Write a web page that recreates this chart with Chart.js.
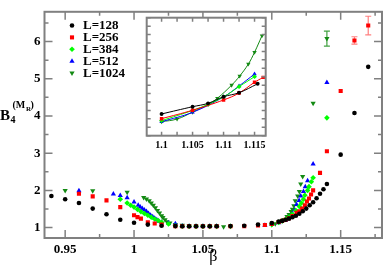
<!DOCTYPE html>
<html>
<head>
<meta charset="utf-8">
<script src="https://cdn.jsdelivr.net/npm/chart.js@4.4.0/dist/chart.umd.min.js"></script>
<style>
body { margin: 0; background: #fff; }
#caixa { position: relative; width: 386px; height: 269px; }
#principal { position: absolute; left: 0; top: 0; }
#inset { position: absolute; left: 128px; top: 6px; }
</style>
</head>
<body>
<div id="caixa">
  <canvas id="principal" width="386" height="269"></canvas>
  <canvas id="inset" width="150" height="150"></canvas>
</div>
<script>
// dados (beta, B4)
const rotulos = ['L=128', 'L=256', 'L=384', 'L=512', 'L=1024'];

const beta128 = [0.94, 0.95, 0.96, 0.97, 0.98, 0.99, 1.0, 1.01, 1.02, 1.03, 1.035, 1.04, 1.045, 1.05, 1.055, 1.06, 1.07, 1.08, 1.09, 1.1, 1.105, 1.1075, 1.11, 1.1125, 1.115, 1.1175, 1.12, 1.1225, 1.125, 1.1275, 1.13, 1.1325, 1.135, 1.1375, 1.14, 1.15, 1.16, 1.17];
const b4_128 = [1.85, 1.76, 1.66, 1.51, 1.36, 1.21, 1.13, 1.08, 1.05, 1.04, 1.035, 1.035, 1.035, 1.035, 1.035, 1.035, 1.04, 1.05, 1.08, 1.12, 1.16, 1.18, 1.21, 1.24, 1.28, 1.32, 1.37, 1.44, 1.51, 1.60, 1.68, 1.79, 1.91, 2.03, 2.17, 2.96, 4.08, 5.32];

const beta256 = [0.96, 0.97, 0.98, 0.99, 1.0, 1.0025, 1.005, 1.01, 1.015, 1.02, 1.03, 1.035, 1.04, 1.045, 1.05, 1.055, 1.06, 1.07, 1.08, 1.09, 1.095, 1.1, 1.105, 1.1075, 1.11, 1.1125, 1.115, 1.118, 1.12, 1.122, 1.124, 1.1255, 1.127, 1.1285, 1.13, 1.135, 1.14, 1.15, 1.16, 1.17];
const b4_256 = [1.91, 1.84, 1.73, 1.55, 1.33, 1.28, 1.24, 1.14, 1.11, 1.08, 1.04, 1.035, 1.035, 1.035, 1.035, 1.035, 1.035, 1.035, 1.04, 1.06, 1.07, 1.10, 1.15, 1.18, 1.21, 1.25, 1.31, 1.40, 1.44, 1.51, 1.60, 1.70, 1.78, 1.89, 2.0, 2.47, 3.05, 4.67, 6.03, 6.43];

const beta384 = [0.99, 0.995, 0.9975, 1.0, 1.0025, 1.005, 1.0075, 1.01, 1.0125, 1.015, 1.0175, 1.02, 1.025, 1.03, 1.035, 1.04, 1.045, 1.05, 1.055, 1.06, 1.07, 1.1, 1.105, 1.1075, 1.11, 1.1125, 1.115, 1.1175, 1.12, 1.1215, 1.123, 1.124, 1.126, 1.127, 1.1287, 1.13, 1.14];
const b4_384 = [1.76, 1.66, 1.60, 1.55, 1.49, 1.43, 1.38, 1.33, 1.28, 1.23, 1.19, 1.14, 1.10, 1.05, 1.035, 1.035, 1.035, 1.035, 1.035, 1.035, 1.035, 1.08, 1.14, 1.18, 1.22, 1.28, 1.36, 1.46, 1.57, 1.66, 1.76, 1.87, 2.0, 2.10, 2.23, 2.34, 3.95];

const beta512 = [0.96, 0.985, 0.99, 0.995, 1.0, 1.003, 1.0045, 1.006, 1.0075, 1.009, 1.0105, 1.012, 1.0135, 1.015, 1.0165, 1.018, 1.02, 1.025, 1.03, 1.035, 1.04, 1.045, 1.05, 1.055, 1.06, 1.095, 1.1, 1.105, 1.11, 1.1125, 1.115, 1.1167, 1.118, 1.1198, 1.121, 1.123, 1.1243, 1.126, 1.13, 1.14];
const b4_512 = [1.99, 1.90, 1.86, 1.80, 1.69, 1.60, 1.55, 1.51, 1.47, 1.43, 1.38, 1.33, 1.29, 1.25, 1.21, 1.17, 1.14, 1.12, 1.10, 1.04, 1.035, 1.035, 1.035, 1.035, 1.035, 1.06, 1.08, 1.13, 1.20, 1.27, 1.37, 1.47, 1.62, 1.73, 1.85, 1.97, 2.10, 2.26, 2.71, 4.9];

const beta1024 = [0.95, 0.97, 0.995, 1.007, 1.009, 1.011, 1.0125, 1.014, 1.0155, 1.017, 1.0185, 1.02, 1.021, 1.0225, 1.024, 1.026, 1.03, 1.035, 1.04, 1.045, 1.05, 1.055, 1.06, 1.065, 1.07, 1.1, 1.1025, 1.105, 1.1075, 1.109, 1.111, 1.1125, 1.114, 1.115, 1.116, 1.117, 1.1188, 1.12, 1.121, 1.1224, 1.13, 1.14];
const b4_1024 = [2.0, 1.99, 1.95, 1.81, 1.77, 1.72, 1.66, 1.60, 1.53, 1.46, 1.39, 1.32, 1.27, 1.21, 1.16, 1.12, 1.08, 1.06, 1.04, 1.035, 1.035, 1.035, 1.035, 1.02, 1.035, 1.08, 1.10, 1.16, 1.19, 1.22, 1.30, 1.35, 1.43, 1.49, 1.59, 1.72, 1.85, 1.97, 2.17, 2.37, 4.34, 6.08];

// barras de erro (serie, beta, valor, erro)
const erroSerie = [1, 1, 4];
const erroBeta = [1.16, 1.17, 1.14];
const erroValor = [6.03, 6.43, 6.08];
const erroTam = [0.1, 0.25, 0.2];

// dados do inset
const insetBeta128 = [1.1, 1.105, 1.1075, 1.11, 1.1125, 1.1155];
const insetB4_128 = [1.129, 1.172, 1.192, 1.231, 1.255, 1.308];
const insetBeta256 = [1.1, 1.105, 1.11, 1.1125, 1.115, 1.1164];
const insetB4_256 = [1.101, 1.151, 1.212, 1.253, 1.317, 1.346];
const insetBeta384 = [1.1, 1.105, 1.1075, 1.11, 1.1125, 1.115];
const insetB4_384 = [1.089, 1.15, 1.186, 1.23, 1.291, 1.35];
const insetBeta512 = [1.1, 1.105, 1.11, 1.1125, 1.115];
const insetB4_512 = [1.083, 1.139, 1.23, 1.295, 1.366];
const insetBeta1024 = [1.1, 1.1025, 1.105, 1.1075, 1.109, 1.1113, 1.1126, 1.114, 1.115, 1.1162];
const insetB4_1024 = [1.083, 1.099, 1.14, 1.186, 1.222, 1.30, 1.354, 1.425, 1.495, 1.593];

const xTicks = [0.95, 1, 1.05, 1.1, 1.15];
const yTicks = [1, 2, 3, 4, 5, 6];
const insetXTicks = [1.1, 1.105, 1.11, 1.115];

const cores = ['#000000', '#ff0000', '#00ff00', '#0000ff', '#138a13'];
const coresErro = ['#000000', 'rgba(255,0,0,0.5)', '#00ff00', '#0000ff', 'rgba(19,138,19,0.8)'];
const estilos = ['circle', 'rect', 'rectRot', 'triangle', 'triangle'];
const rotacoes = [0, 0, 0, 0, 180];
const raios = [2.3, 2.9, 2.8, 3.0, 3.0];

const CINZA = '#808080';
const SERIF = "'Liberation Serif', 'DejaVu Serif', serif";

function pares(xs, ys) {
    return xs.map((x, i) => ({ x: x, y: ys[i] }));
}

const principais = [pares(beta128, b4_128), pares(beta256, b4_256), pares(beta384, b4_384), pares(beta512, b4_512), pares(beta1024, b4_1024)];
const insets = [pares(insetBeta128, insetB4_128), pares(insetBeta256, insetB4_256), pares(insetBeta384, insetB4_384), pares(insetBeta512, insetB4_512), pares(insetBeta1024, insetB4_1024)];

function desenhaTicks(ctx, area, xs, ys, valoresX, valoresY, compr) {
    ctx.beginPath();
    valoresX.forEach(v => {
        const px = xs.getPixelForValue(v.valor);
        ctx.moveTo(px, area.bottom); ctx.lineTo(px, area.bottom - v.longo * compr);
        ctx.moveTo(px, area.top); ctx.lineTo(px, area.top + v.longo * compr);
    });
    valoresY.forEach(v => {
        const py = ys.getPixelForValue(v.valor);
        ctx.moveTo(area.left, py); ctx.lineTo(area.left + v.longo * compr, py);
        ctx.moveTo(area.right, py); ctx.lineTo(area.right - v.longo * compr, py);
    });
    ctx.stroke();
}

function comMenores(maiores, passo, min, max) {
    const out = [];
    maiores.forEach(v => out.push({ valor: v, longo: 1 }));
    const inicio = Math.ceil((min - passo / 2) / passo);
    for (let k = inicio; k * passo + passo / 2 <= max; k++) {
        const v = k * passo + passo / 2;
        if (v >= min) out.push({ valor: v, longo: 0.5 });
    }
    return out;
}

const moldura = {
    id: 'moldura',
    beforeDatasetsDraw(chart) {
        const ctx = chart.ctx;
        const xs = chart.scales.x, ys = chart.scales.y;
        ctx.save();
        ctx.lineWidth = 1.2;
        erroBeta.forEach((b, i) => {
            const px = xs.getPixelForValue(b);
            const y1 = ys.getPixelForValue(erroValor[i] - erroTam[i]);
            const y2 = ys.getPixelForValue(erroValor[i] + erroTam[i]);
            ctx.strokeStyle = coresErro[erroSerie[i]];
            ctx.beginPath();
            ctx.moveTo(px, y1); ctx.lineTo(px, y2);
            ctx.moveTo(px - 3, y1); ctx.lineTo(px + 3, y1);
            ctx.moveTo(px - 3, y2); ctx.lineTo(px + 3, y2);
            ctx.stroke();
        });
        ctx.restore();
    },
    afterDatasetsDraw(chart) {
        const ctx = chart.ctx;
        const area = chart.chartArea;
        const xs = chart.scales.x, ys = chart.scales.y;
        ctx.save();
        ctx.strokeStyle = CINZA;
        ctx.lineWidth = 1.5;
        desenhaTicks(ctx, area, xs, ys, comMenores(xTicks, 0.05, xs.min, xs.max), comMenores(yTicks, 1, ys.min, ys.max), 8);
        ctx.lineWidth = 2;
        ctx.strokeRect(area.left, area.top, area.right - area.left, area.bottom - area.top);

        // legenda
        rotulos.forEach((r, i) => {
            const y = 25.5 + i * 11.9;
            ctx.fillStyle = cores[i];
            ctx.strokeStyle = cores[i];
            Chart.helpers.drawPoint(ctx, { pointStyle: estilos[i], rotation: rotacoes[i], radius: raios[i], borderWidth: 0 }, 72, y);
            ctx.fillStyle = '#000';
            ctx.font = 'bold 13px ' + SERIF;
            ctx.textBaseline = 'middle';
            ctx.textAlign = 'left';
            ctx.fillText(r, 83, y + 0.5);
        });

        // titulos dos eixos
        ctx.fillStyle = '#000';
        ctx.textBaseline = 'alphabetic';
        ctx.font = 'bold 15px ' + SERIF;
        ctx.fillText('B', 0, 120);
        ctx.font = 'bold 10px ' + SERIF;
        ctx.fillText('4', 10.5, 123);
        ctx.fillText('(M', 12.5, 108);
        ctx.font = 'bold 7px ' + SERIF;
        ctx.fillText('R', 26, 111);
        ctx.font = 'bold 10px ' + SERIF;
        ctx.fillText(')', 30.5, 108);
        ctx.font = '16px ' + SERIF;
        ctx.textAlign = 'center';
        ctx.fillText('β', (area.left + area.right) / 2, 261);
        ctx.restore();
    }
};

const molduraInset = {
    id: 'molduraInset',
    beforeDatasetsDraw(chart) {
        const a = chart.chartArea;
        chart.ctx.save();
        chart.ctx.fillStyle = '#fff';
        chart.ctx.fillRect(a.left, a.top, a.right - a.left, a.bottom - a.top);
        chart.ctx.restore();
    },
    afterDatasetsDraw(chart) {
        const ctx = chart.ctx;
        const area = chart.chartArea;
        const xs = chart.scales.x, ys = chart.scales.y;
        const tx = [], ty = [];
        for (let k = Math.ceil(xs.min / 0.0025); k * 0.0025 <= xs.max; k++) tx.push({ valor: k * 0.0025, longo: 1 });
        for (let k = Math.ceil(ys.min / 0.05); k * 0.05 <= ys.max + 1e-9; k++) ty.push({ valor: k * 0.05, longo: 1 });
        ctx.save();
        ctx.strokeStyle = CINZA;
        ctx.lineWidth = 1.5;
        desenhaTicks(ctx, area, xs, ys, tx, ty, 4);
        ctx.lineWidth = 2;
        ctx.strokeRect(area.left, area.top, area.right - area.left, area.bottom - area.top);
        ctx.restore();
    }
};

function ajustaArea(chart, alvo) {
    const ca = chart.chartArea;
    const p = chart.options.layout.padding;
    p.left += alvo.left - ca.left;
    p.top += alvo.top - ca.top;
    p.right += ca.right - alvo.right;
    p.bottom += ca.bottom - alvo.bottom;
    chart.update();
}

const graficoPrincipal = new Chart(document.getElementById('principal').getContext('2d'), {
    type: 'scatter',
    data: {
        datasets: principais.map((d, i) => ({
            label: rotulos[i],
            data: d,
            backgroundColor: cores[i],
            borderColor: cores[i],
            borderWidth: 0,
            pointStyle: estilos[i],
            rotation: rotacoes[i],
            pointRadius: raios[i],
            showLine: false
        }))
    },
    options: {
        responsive: false,
        animation: false,
        layout: { padding: { left: 30, right: 2, top: 1, bottom: 20 } },
        plugins: { legend: { display: false }, tooltip: { enabled: false } },
        scales: {
            x: {
                type: 'linear', min: 0.935, max: 1.18,
                grid: { display: false, drawTicks: false },
                border: { display: false },
                afterBuildTicks: s => { s.ticks = xTicks.map(v => ({ value: v })); },
                ticks: {
                    color: '#000', padding: 4, maxRotation: 0, autoSkip: false,
                    font: { family: SERIF, weight: 'bold', size: 13 },
                    callback: v => String(v)
                }
            },
            y: {
                type: 'linear', min: 0.72, max: 6.8,
                grid: { display: false, drawTicks: false },
                border: { display: false },
                afterBuildTicks: s => { s.ticks = yTicks.map(v => ({ value: v })); },
                ticks: {
                    color: '#000', padding: 4, autoSkip: false,
                    font: { family: SERIF, weight: 'bold', size: 13 },
                    callback: v => String(v)
                }
            }
        }
    },
    plugins: [moldura]
});
ajustaArea(graficoPrincipal, { left: 44.5, top: 1, right: 384, bottom: 238 });

const graficoInset = new Chart(document.getElementById('inset').getContext('2d'), {
    type: 'scatter',
    data: {
        datasets: insets.map((d, i) => ({
            label: rotulos[i],
            data: d,
            backgroundColor: cores[i],
            borderColor: cores[i],
            borderWidth: 1,
            pointBorderWidth: 0,
            pointStyle: estilos[i],
            rotation: rotacoes[i],
            pointRadius: raios[i] * 0.85,
            showLine: true,
            tension: 0.4
        }))
    },
    options: {
        responsive: false,
        animation: false,
        layout: { padding: { left: 18, right: 12, top: 12, bottom: 8 } },
        plugins: { legend: { display: false }, tooltip: { enabled: false } },
        scales: {
            x: {
                type: 'linear', min: 1.0976, max: 1.1168,
                grid: { display: false, drawTicks: false },
                border: { display: false },
                afterBuildTicks: s => { s.ticks = insetXTicks.map(v => ({ value: v })); },
                ticks: {
                    color: '#000', padding: 4, maxRotation: 0, autoSkip: false,
                    font: { family: SERIF, weight: 'bold', size: 10 },
                    callback: v => String(v)
                }
            },
            y: { type: 'linear', min: 1.0, max: 1.7, display: false }
        }
    },
    plugins: [molduraInset]
});
ajustaArea(graficoInset, { left: 18.7, top: 11.7, right: 137.7, bottom: 129.7 });
</script>
</body>
</html>
